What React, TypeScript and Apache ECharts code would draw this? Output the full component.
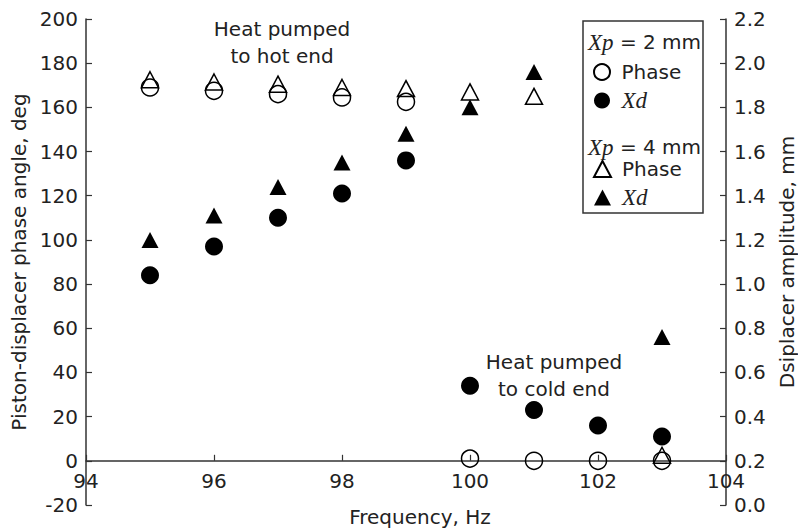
import React, { useEffect, useRef } from "react";
import * as echarts from "echarts";

// Frequency (Hz)
const freq2 = [95, 96, 97, 98, 99, 100, 101, 102, 103];
const freq4 = [95, 96, 97, 98, 99, 100, 101, 103];
// Piston-displacer phase angle (deg), left axis
const phase2 = [169, 167.5, 166, 164.5, 162.5, 1, 0, 0, 0];
const phase4 = [172.5, 171.5, 170.5, 169, 168.5, 167, 165, 2.5];
// Displacer amplitude (mm), right axis
const xd2 = [1.04, 1.17, 1.3, 1.41, 1.56, 0.54, 0.43, 0.36, 0.31];
const xd4 = [1.2, 1.31, 1.44, 1.55, 1.68, 1.8, 1.96, 0.76];

const SANS = "DejaVu Sans";
const SERIF = "Liberation Serif";
const TXT = "#222";

const pairs = (xs: number[], ys: number[]) => xs.map((x, i) => [x, ys[i]]);

const labelMap: Record<string, string> = {
  p2: "Phase",
  x2: "{i|Xd}",
  p4: "Phase",
  x4: "{i|Xd}",
};

export default function App() {
  const ref = useRef<HTMLDivElement>(null);
  useEffect(() => {
    if (!ref.current) return;
    const chart = echarts.init(ref.current, null, { renderer: "svg" });
    const openStyle = { color: "transparent", borderColor: "#000", borderWidth: 1.5, opacity: 1 };
    const fillStyle = { color: "#000", borderColor: "#000", borderWidth: 0, opacity: 1 };
    const legendBase = {
      orient: "vertical",
      left: 593,
      padding: 0,
      itemWidth: 17,
      itemHeight: 16,
      itemGap: 7,
      selectedMode: false,
      formatter: (n: string) => labelMap[n] || n,
      textStyle: {
        fontFamily: SANS,
        fontSize: 20,
        lineHeight: 20,
        color: TXT,
        padding: [0, 0, 0, 6],
        rich: { i: { fontFamily: SERIF, fontStyle: "italic", fontSize: 23, color: TXT } },
      },
    };
    chart.setOption({
      animation: false,
      backgroundColor: "#fff",
      grid: { left: 86, right: 72, top: 19, bottom: 27, containLabel: false, outerBoundsMode: "none" },
      xAxis: {
        type: "value",
        min: 94,
        max: 104,
        interval: 2,
        position: "bottom",
        offset: -44.2,
        axisLine: { onZero: false, lineStyle: { color: "#333", width: 1.5 } },
        axisTick: { inside: true, length: 6, lineStyle: { color: "#333", width: 1.2 } },
        axisLabel: { fontFamily: SANS, fontSize: 20, color: TXT, margin: 10, showMaxLabel: true, showMinLabel: true },
        splitLine: { show: false },
      },
      yAxis: [
        {
          type: "value",
          min: -20,
          max: 200,
          interval: 20,
          name: "Piston-displacer phase angle, deg",
          nameLocation: "middle",
          nameRotate: 90,
          nameGap: 56,
          nameTextStyle: { fontFamily: SANS, fontSize: 20, color: TXT },
          axisLine: { show: true, onZero: false, lineStyle: { color: "#333", width: 1.5 } },
          axisTick: { show: true, inside: true, length: 6, lineStyle: { color: "#333", width: 1.2 } },
          axisLabel: { fontFamily: SANS, fontSize: 20, color: TXT, margin: 8 },
          splitLine: { show: false },
        },
        {
          type: "value",
          min: 0,
          max: 2.2,
          interval: 0.2,
          position: "right",
          name: "Dsiplacer amplitude, mm",
          nameLocation: "middle",
          nameRotate: 90,
          nameGap: 49,
          nameTextStyle: { fontFamily: SANS, fontSize: 20, color: TXT, lineHeight: 20 },
          axisLine: { show: true, onZero: false, lineStyle: { color: "#333", width: 1.5 } },
          axisTick: { show: true, inside: true, length: 6, lineStyle: { color: "#333", width: 1.2 } },
          axisLabel: { fontFamily: SANS, fontSize: 20, color: TXT, margin: 8, formatter: (v: number) => v.toFixed(1) },
          splitLine: { show: false },
        },
      ],
      legend: [
        { ...legendBase, top: 62, data: ["p2", "x2"] },
        { ...legendBase, top: 159, data: ["p4", "x4"] },
      ],
      graphic: [
        {
          type: "rect",
          z: 1,
          shape: { x: 583, y: 21, width: 120, height: 192 },
          style: { fill: "#fff", stroke: "#333", lineWidth: 1.5 },
        },
        {
          type: "text",
          z: 5,
          x: 588,
          y: 42,
          style: {
            text: "{i|Xp} = 2 mm",
            font: `20px "${SANS}"`,
            fill: TXT,
            verticalAlign: "middle",
            rich: { i: { fontFamily: SERIF, fontStyle: "italic", fontSize: 23, fill: TXT } },
          },
        },
        {
          type: "text",
          z: 5,
          x: 588,
          y: 147,
          style: {
            text: "{i|Xp} = 4 mm",
            font: `20px "${SANS}"`,
            fill: TXT,
            verticalAlign: "middle",
            rich: { i: { fontFamily: SERIF, fontStyle: "italic", fontSize: 23, fill: TXT } },
          },
        },
        {
          type: "text",
          x: 282,
          y: 42,
          style: {
            text: "Heat pumped\nto hot end",
            font: `20px "${SANS}"`,
            fill: TXT,
            align: "center",
            verticalAlign: "middle",
            lineHeight: 27,
          },
        },
        {
          type: "text",
          x: 554,
          y: 375,
          style: {
            text: "Heat pumped\nto cold end",
            font: `20px "${SANS}"`,
            fill: TXT,
            align: "center",
            verticalAlign: "middle",
            lineHeight: 27,
          },
        },
        {
          type: "text",
          x: 420,
          y: 517,
          style: {
            text: "Frequency, Hz",
            font: `20px "${SANS}"`,
            fill: TXT,
            align: "center",
            verticalAlign: "middle",
          },
        },
      ],
      series: [
        {
          name: "p4",
          type: "scatter",
          yAxisIndex: 0,
          symbol: "triangle",
          symbolSize: [17, 16],
          itemStyle: openStyle,
          data: pairs(freq4, phase4),
        },
        {
          name: "p2",
          type: "scatter",
          yAxisIndex: 0,
          symbol: "circle",
          symbolSize: 17,
          itemStyle: openStyle,
          data: pairs(freq2, phase2),
        },
        {
          name: "x2",
          type: "scatter",
          yAxisIndex: 1,
          symbol: "circle",
          symbolSize: 18,
          itemStyle: fillStyle,
          data: pairs(freq2, xd2),
        },
        {
          name: "x4",
          type: "scatter",
          yAxisIndex: 1,
          symbol: "triangle",
          symbolSize: [17, 16],
          itemStyle: fillStyle,
          data: pairs(freq4, xd4),
        },
      ],
    });
    return () => chart.dispose();
  }, []);
  return <div ref={ref} style={{ width: 798, height: 532, position: "absolute", left: 0, top: 0 }} />;
}
